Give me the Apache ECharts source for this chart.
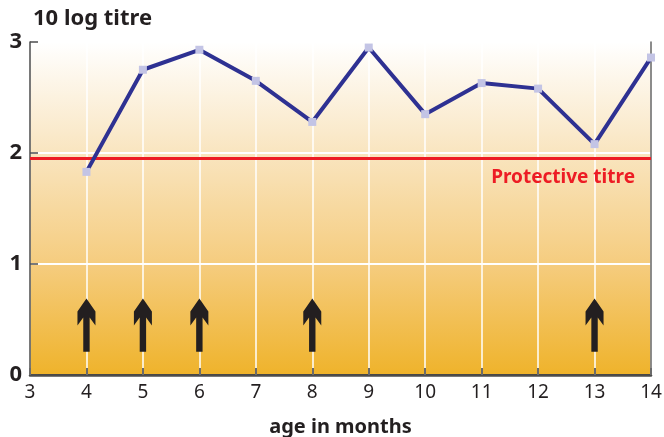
<!DOCTYPE html>
<html>
<head>
<meta charset="utf-8">
<script src="https://cdn.jsdelivr.net/npm/echarts@6/dist/echarts.min.js"></script>
<style>html,body{margin:0;padding:0;background:#fff}#c{width:664px;height:437px}</style>
</head>
<body>
<div id="c"></div>
<script>
const months = [4, 5, 6, 7, 8, 9, 10, 11, 12, 13, 14];
const titre = [1.83, 2.75, 2.93, 2.65, 2.28, 2.95, 2.35, 2.63, 2.58, 2.08, 2.86];
const protectiveTitre = 1.95;
const arrowMonths = [4, 5, 6, 8, 13];
const arrowBase = 0.21;
const arrowTip = 0.69;
const xTicks = [3, 4, 5, 6, 7, 8, 9, 10, 11, 12, 13, 14];
const yTicks = [0, 1, 2, 3];

const FONT = 'Noto Sans';
const chart = echarts.init(document.getElementById('c'), null, {renderer: 'canvas'});
chart.setOption({
  animation: false,
  backgroundColor: '#ffffff',
  title: {
    text: '10 log titre', left: 28, top: 3,
    textStyle: {fontFamily: FONT, fontWeight: 'bold', fontSize: 22, color: '#231F20'}
  },
  grid: {
    left: 30, right: 13, top: 42, bottom: 62, show: true, borderWidth: 0,
    outerBoundsMode: 'none', containLabel: false,
    backgroundColor: new echarts.graphic.LinearGradient(0, 0, 0, 1, [
      {offset: 0, color: '#FFFFFF'},
      {offset: 0.33, color: '#F9E5C0'},
      {offset: 0.67, color: '#F5CC7E'},
      {offset: 1, color: '#EFB32B'}
    ])
  },
  xAxis: [{
    type: 'value', min: xTicks[0], max: xTicks[xTicks.length - 1], interval: 1,
    name: 'age in months', nameLocation: 'middle', nameGap: 42,
    nameTextStyle: {fontFamily: FONT, fontWeight: 'bold', fontSize: 20, color: '#231F20'},
    axisLine: {lineStyle: {color: '#3A3A3A', width: 2}},
    axisTick: {inside: true, length: 7, lineStyle: {color: '#6B6B6B', width: 2}},
    axisLabel: {fontFamily: FONT, fontSize: 19, color: '#231F20', margin: 8},
    splitLine: {show: true, lineStyle: {color: '#FFFFFF', width: 1.5}}
  }, {
    type: 'value', position: 'top', min: 3, max: 14,
    axisLine: {show: true, lineStyle: {color: '#4D4D4D', width: 2.5}},
    axisTick: {show: false}, axisLabel: {show: false}, splitLine: {show: false}
  }],
  yAxis: [{
    type: 'value', min: yTicks[0], max: yTicks[yTicks.length - 1], interval: 1,
    axisLine: {show: true, lineStyle: {color: '#4D4D4D', width: 1.5}},
    axisTick: {show: true, inside: true, length: 8, lineStyle: {color: '#4D4D4D', width: 1.5}},
    axisLabel: {fontFamily: FONT, fontWeight: 'bold', fontSize: 22, color: '#231F20', margin: 8},
    splitLine: {show: true, lineStyle: {color: '#FFFFFF', width: 2}}
  }, {
    type: 'value', position: 'right', min: 0, max: 3,
    axisLine: {show: true, lineStyle: {color: '#666666', width: 1.5}},
    axisTick: {show: false}, axisLabel: {show: false}, splitLine: {show: false}
  }],
  series: [{
    type: 'line',
    data: months.map((m, i) => [m, titre[i]]),
    lineStyle: {color: '#2E3192', width: 4},
    symbol: 'rect', symbolSize: 8,
    itemStyle: {color: '#C3C4E5'},
    z: 5,
    markLine: {
      silent: true, symbol: ['none', 'none'],
      lineStyle: {color: '#ED1C24', width: 3, type: 'solid'},
      label: {
        show: true, position: 'insideEndBottom', formatter: 'Protective titre',
        fontFamily: FONT, fontWeight: 'bold', fontSize: 19, color: '#ED1C24',
        distance: [16, 10]
      },
      data: [{yAxis: protectiveTitre}]
    }
  }, {
    type: 'custom',
    data: arrowMonths.map(m => [m, arrowBase, arrowTip]),
    renderItem: function (params, api) {
      const b = api.coord([api.value(0), api.value(1)]);
      const t = api.coord([api.value(0), api.value(2)]);
      const cx = b[0], ty = t[1], by = b[1];
      return {
        type: 'polygon',
        shape: {points: [
          [cx, ty], [cx + 9, ty + 13], [cx + 9, ty + 27], [cx + 3.2, ty + 19],
          [cx + 3.2, by], [cx - 3.2, by], [cx - 3.2, ty + 19], [cx - 9, ty + 27], [cx - 9, ty + 13]
        ]},
        style: {fill: '#231F20'}
      };
    },
    z: 6
  }]
});
</script>
</body>
</html>
